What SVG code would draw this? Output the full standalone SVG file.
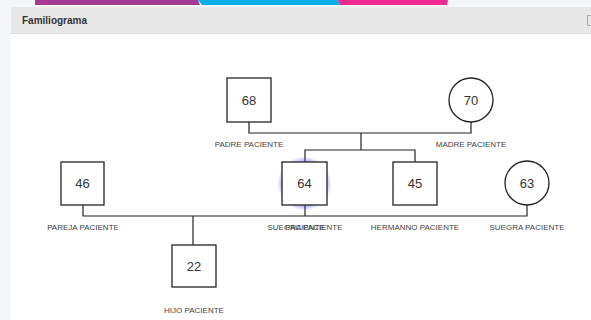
<svg xmlns="http://www.w3.org/2000/svg" width="591" height="320" viewBox="0 0 591 320">
<defs>
<style>
.box{fill:#fff;stroke:#222;stroke-width:1.3}
.num{font-family:"Liberation Sans",Arial,sans-serif;font-size:13px;fill:#333;text-anchor:middle}
.lbl{font-family:"Liberation Sans",Arial,sans-serif;font-size:8px;fill:#444;text-anchor:middle}
.ln{fill:none;stroke:#222;stroke-width:1.2}
</style>
<radialGradient id="glow" cx="0.5" cy="0.5" r="0.5">
<stop offset="0.65" stop-color="#4a4aff" stop-opacity="0.8"/>
<stop offset="1" stop-color="#4a4aff" stop-opacity="0"/>
</radialGradient>
</defs>
<rect x="0" y="0" width="591" height="320" fill="#f5f6f8"/>
<rect x="11" y="7" width="580" height="313" fill="#fff"/>
<rect x="11" y="7" width="580" height="26" fill="#e8e8e8"/>
<line x1="11" y1="33.5" x2="591" y2="33.5" stroke="#dcdcdc"/>
<polygon points="35,0 198,0 200,5 35,5" fill="#a33a93"/>
<polygon points="198,0 338,0 340,5 202,5" fill="#09aeea"/>
<polygon points="338,0 448,0 447,5 340,5" fill="#ec2a91"/>
<text x="22" y="24" font-family="Liberation Sans,Arial,sans-serif" font-size="10" font-weight="bold" fill="#333">Familiograma</text>
<rect x="587.5" y="15.5" width="8" height="10" fill="none" stroke="#aaa"/>

<g id="connectors">
<polyline class="ln" points="249,122 249,133 471,133 471,122"/>
<line class="ln" x1="361" y1="133" x2="361" y2="150"/>
<polyline class="ln" points="305,162 305,150 415,150 415,162"/>
<polyline class="ln" points="83,205 83,216 527,216 527,205"/>
<line class="ln" x1="305" y1="205" x2="305" y2="216"/>
<line class="ln" x1="193" y1="216" x2="193" y2="245"/>
</g>

<g id="n68">
<rect class="box" x="227" y="78" width="44" height="44"/>
<text class="num" x="249" y="105">68</text>
<text class="lbl" x="249" y="147">PADRE PACIENTE</text>
</g>
<g id="n70">
<circle class="box" cx="471" cy="100" r="22"/>
<text class="num" x="471" y="105">70</text>
<text class="lbl" x="471" y="147">MADRE PACIENTE</text>
</g>
<g id="n46">
<rect class="box" x="61" y="162" width="43" height="43"/>
<text class="num" x="82.5" y="188">46</text>
<text class="lbl" x="83" y="230">PAREJA PACIENTE</text>
</g>
<g id="n64">
<circle cx="304.5" cy="183.5" r="27" fill="url(#glow)"/>
<rect class="box" x="282" y="162" width="45" height="43"/>
<text class="num" x="304.5" y="188">64</text>
<text class="lbl" x="305" y="230">SUEGRA PACIENTE</text>
<text class="lbl" x="305" y="230">PACIENTE</text>
</g>
<g id="n45">
<rect class="box" x="393" y="162" width="44" height="43"/>
<text class="num" x="415" y="188">45</text>
<text class="lbl" x="415" y="230">HERMANNO PACIENTE</text>
</g>
<g id="n63">
<circle class="box" cx="527" cy="183" r="22"/>
<text class="num" x="527" y="188">63</text>
<text class="lbl" x="527" y="230">SUEGRA PACIENTE</text>
</g>
<g id="n22">
<rect class="box" x="172" y="245" width="44" height="42"/>
<text class="num" x="194" y="271">22</text>
<text class="lbl" x="194" y="313">HIJO PACIENTE</text>
</g>
</svg>
